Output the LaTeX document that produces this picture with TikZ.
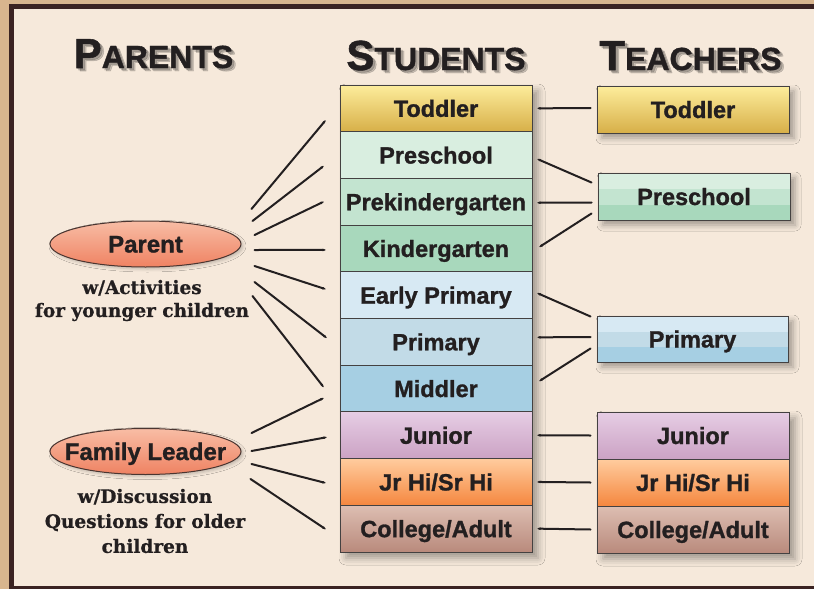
\documentclass[tikz,border=0pt]{standalone}
\usepackage{fontspec}
\setmainfont{Liberation Sans}[BoldFeatures={FakeBold=1.2}]
\newfontfamily\capfont{DejaVu Serif}[BoldFeatures={FakeBold=0.8}]
\usetikzlibrary{shapes.geometric,shadows.blur,arrows.meta}

\definecolor{cream}{HTML}{F6E9DB}
\definecolor{tanbg}{HTML}{D8B58E}
\definecolor{framec}{HTML}{3B2322}
\definecolor{ink}{HTML}{231F20}
\definecolor{todtop}{HTML}{FDED9C}
\definecolor{todbot}{HTML}{D7AF48}
\definecolor{gA}{HTML}{D9EEE0}
\definecolor{gB}{HTML}{C3E4D0}
\definecolor{gC}{HTML}{A8D8BC}
\definecolor{bA}{HTML}{D7E9F3}
\definecolor{bB}{HTML}{C2DBE7}
\definecolor{bC}{HTML}{A6CFE3}
\definecolor{juntop}{HTML}{E6CDE4}
\definecolor{junbot}{HTML}{CBA2C4}
\definecolor{jhtop}{HTML}{FFCC9E}
\definecolor{jhbot}{HTML}{F5873F}
\definecolor{coltop}{HTML}{DDBEB2}
\definecolor{colbot}{HTML}{B98A7C}
\definecolor{ovtop}{HTML}{F8BDA5}
\definecolor{ovbot}{HTML}{EF8262}
\definecolor{ovline}{HTML}{4A3530}

\pgfdeclareverticalshading{greenbands}{100bp}{color(0bp)=(gC); color(41.6bp)=(gC); color(41.7bp)=(gB); color(58.3bp)=(gB); color(58.4bp)=(gA); color(100bp)=(gA)}
\pgfdeclareverticalshading{bluebands}{100bp}{color(0bp)=(bC); color(41.6bp)=(bC); color(41.7bp)=(bB); color(58.3bp)=(bB); color(58.4bp)=(bA); color(100bp)=(bA)}

\newcommand\hdrtext[2]{{\fontsize{42}{42}\selectfont #1}{\fontsize{32}{32}\selectfont #2}}

\tikzset{
  box/.style={draw=ink!85, line width=0.9pt, minimum width=192, minimum height=46.7,
    inner sep=0, text height=17, text depth=0,
    font=\bfseries\fontsize{23.5}{24}\selectfont, text=ink},
  tbox/.style={box, line width=1pt, minimum height=47,
    blur shadow={shadow xshift=5pt, shadow yshift=-5pt, shadow blur radius=6pt, shadow opacity=35}},
  colshadow/.style={minimum width=192, minimum height=467, inner sep=0, fill=cream,
    blur shadow={shadow xshift=6pt, shadow yshift=-6pt, shadow blur radius=7pt, shadow opacity=35}},
  oval/.style={ellipse, draw=ovline, line width=1pt, minimum width=191, minimum height=46,
    inner sep=0, top color=ovtop, bottom color=ovbot, text height=17, text depth=0,
    font=\bfseries\fontsize{24}{24}\selectfont, text=ink,
    blur shadow={shadow xshift=2pt, shadow yshift=-2pt, shadow blur radius=3pt, shadow opacity=22}},
  capt/.style={align=center, inner sep=0, text=ink},
  hdr/.style={inner sep=0, anchor=base, font=\bfseries, text=ink},
  hdrsh/.style={hdr, text=black, opacity=0.18},
  conn/.style={line width=2pt, draw=ink, line cap=round, -{Stealth[length=6pt,width=3.6pt,round]}},
  greenb/.style={shading=greenbands},
  blueb/.style={shading=bluebands},
}

\begin{document}
\begin{tikzpicture}[x=1pt,y=-1pt]
\useasboundingbox (0,0) rectangle (814,589);
\fill[tanbg] (0,0) rectangle (814,589);
\fill[framec] (9,4) rectangle (814,589);
\fill[cream] (14,9) rectangle (814,586);

% headers
\foreach \dx/\dy [count=\k] in {2/2, 3.5/3} {
  \node[hdrsh] (hsp\k) at (153.5+\dx,68+\dy) {\hdrtext{P}{ARENTS}};
  \node[hdrsh] (hss\k) at (436+\dx,70+\dy) {\hdrtext{S}{TUDENTS}};
  \node[hdrsh] (hst\k) at (690.5+\dx,70+\dy) {\hdrtext{T}{EACHERS}};
}
\node[hdr] (hpar) at (153.5,68) {\hdrtext{P}{ARENTS}};
\node[hdr] (hstu) at (436,70) {\hdrtext{S}{TUDENTS}};
\node[hdr] (htea) at (690.5,70) {\hdrtext{T}{EACHERS}};

% students column
\node[colshadow] (scol) at (436,318.5) {};
\node[box, top color=todtop, bottom color=todbot] (s1) at (436,108.35) {Toddler};
\node[box, fill=gA] (s2) at (436,155.05) {Preschool};
\node[box, fill=gB] (s3) at (436,201.75) {Prekindergarten};
\node[box, fill=gC] (s4) at (436,248.45) {Kindergarten};
\node[box, fill=bA] (s5) at (436,295.15) {Early Primary};
\node[box, fill=bB] (s6) at (436,341.85) {Primary};
\node[box, fill=bC] (s7) at (436,388.55) {Middler};
\node[box, top color=juntop, bottom color=junbot] (s8) at (436,435.25) {Junior};
\node[box, top color=jhtop, bottom color=jhbot] (s9) at (436,481.95) {Jr Hi/Sr Hi};
\node[box, top color=coltop, bottom color=colbot] (s10) at (436,528.65) {College/Adult};

% teachers
\node[tbox, top color=todtop, bottom color=todbot] (t1) at (693,109.5) {Toddler};
\node[tbox, greenb] (t2) at (694,196.5) {Preschool};
\node[tbox, blueb, minimum width=191, minimum height=46] (t3) at (692.5,339) {Primary};
\node[colshadow, minimum height=141] (tgrp) at (693,482.5) {};
\node[box, line width=1pt, top color=juntop, bottom color=junbot, minimum height=47] (t4) at (693,435.5) {Junior};
\node[box, line width=1pt, top color=jhtop, bottom color=jhbot, minimum height=47] (t5) at (693,482.5) {Jr Hi/Sr Hi};
\node[box, line width=1pt, top color=coltop, bottom color=colbot, minimum height=47] (t6) at (693,529.5) {College/Adult};

% teacher -> student connectors
\draw[conn] ([shift={(-6,-1.5)}]t1.west) -- ([shift={(5,0)}]s1.east);
\draw[conn] ([shift={(-6,10)}]t2.north west) -- ([shift={(5,4)}]s2.east);
\draw[conn] ([shift={(-6,6)}]t2.west) -- ([shift={(5,1)}]s3.east);
\draw[conn] ([shift={(-6,-7)}]t2.south west) -- ([shift={(7,-1.5)}]s4.east);
\draw[conn] ([shift={(-6,1)}]t3.north west) -- ([shift={(5,-2)}]s5.east);
\draw[conn] ([shift={(-6,-2)}]t3.west) -- ([shift={(5,-4.5)}]s6.east);
\draw[conn] ([shift={(-6,-14)}]t3.south west) -- ([shift={(7,-7.5)}]s7.east);
\draw[conn] ([shift={(-6,0)}]t4.west) -- ([shift={(5,0)}]s8.east);
\draw[conn] ([shift={(-6,0)}]t5.west) -- ([shift={(5,0)}]s9.east);
\draw[conn] ([shift={(-6,0)}]t6.west) -- ([shift={(5,0)}]s10.east);

% parents
\node[oval] (par) at (145.5,244) {\makebox[0pt]{Parent}};
\node[oval] (fam) at (145.5,451.5) {\makebox[0pt]{Family Leader}};
\node[capt, font=\capfont\bfseries\fontsize{18.5}{23}\selectfont] (parcap) at (142,300.5) {w/Activities\\for younger children};
\node[capt, font=\capfont\bfseries\fontsize{18.5}{25}\selectfont] (famcap) at (145,521) {w/Discussion\\Questions for older\\children};

\draw[conn] ([shift={(10,-35)}]par.east) -- ([shift={(-14,12)}]s1.west);
\draw[conn] ([shift={(11,-23)}]par.east) -- ([shift={(-16,11)}]s2.west);
\draw[conn] ([shift={(13,-9)}]par.east) -- ([shift={(-16,0)}]s3.west);
\draw[conn] ([shift={(13,6)}]par.east) -- ([shift={(-14,1.5)}]s4.west);
\draw[conn] ([shift={(13,22)}]par.east) -- ([shift={(-14,-6)}]s5.west);
\draw[conn] ([shift={(13,38)}]par.east) -- ([shift={(-13,-4)}]s6.west);
\draw[conn] ([shift={(11,52)}]par.east) -- ([shift={(-16,-1.5)}]s7.west);

\draw[conn] ([shift={(10,-18.5)}]fam.east) -- ([shift={(-16,9.5)}]s7.west);
\draw[conn] ([shift={(10,-0.5)}]fam.east) -- ([shift={(-13,2)}]s8.west);
\draw[conn] ([shift={(10,12.5)}]fam.east) -- ([shift={(-14,1)}]s9.west);
\draw[conn] ([shift={(9,27.5)}]fam.east) -- ([shift={(-14,0.5)}]s10.west);
\end{tikzpicture}
\end{document}
